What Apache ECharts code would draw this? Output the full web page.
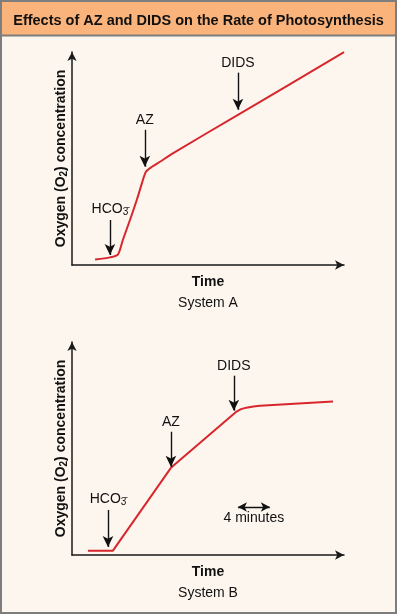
<!DOCTYPE html>
<html>
<head>
<meta charset="utf-8">
<script src="https://cdn.jsdelivr.net/npm/echarts@6/dist/echarts.min.js"></script>
<style>
  html, body { margin: 0; padding: 0; background: #fdf6ee; }
  #main { width: 397px; height: 614px; }
</style>
</head>
<body>
<div id="main"></div>
<script>
// System A curve (time, O2 in arbitrary units 0-100)
var timeA = [8.4, 13.8, 16.7, 18.5, 21.1, 23.6, 25.5, 26.9, 29.1, 32.0, 36.7, 60.4, 99.0];
var o2A = [2.5, 3.5, 4.8, 11.5, 20.7, 30.0, 37.8, 42.9, 45.2, 47.5, 51.4, 69.1, 97.9];

// System B curve
var timeB = [5.8, 14.9, 36.0, 59.9, 61.5, 63.5, 66.0, 68.4, 95.0];
var o2B = [2.0, 2.0, 40.1, 66.0, 67.1, 67.8, 68.3, 68.7, 70.6];

// additions marked with arrows
var additions = ['HCO3', 'AZ', 'DIDS'];
var arrowXA = [13.8, 26.5, 60.4];
var arrowTopA = [20.7, 62.2, 88.5];
var arrowTipA = [4.6, 45.2, 71.4];
var arrowXB = [13.1, 36.0, 58.9];
var arrowTopB = [20.7, 56.7, 82.5];
var arrowTipB = [3.7, 40.6, 66.4];

// 4 minute scale bar (system B)
var scaleBarX = [60.4, 72.0];
var scaleBarY = 22.1;
var scaleBarText = '4 minutes';

var FONT = 'Liberation Sans';
var BORDER = '#7d7d7d';

function zip(xs, ys) {
    return xs.map(function(x, i) { return [x, ys[i]]; });
}

function addLabel(name) {
    if (name === 'HCO3') return '{t|HCO}{s|3\u0304}';
    return '{t|' + name + '}';
}

function arrowLines(xs, tops, tips) {
    return additions.map(function(name, i) {
        return [
            { coord: [xs[i], tops[i]], name: name },
            { coord: [xs[i], tips[i]] }
        ];
    });
}

var labelRich = {
    t: { fontFamily: FONT, fontSize: 14, color: '#111' },
    s: { fontFamily: FONT, fontSize: 10, color: '#111', padding: [6, 0, 0, 0] }
};

function axisX(gi, sys) {
    return {
        gridIndex: gi, type: 'value', min: 0, max: 99,
        axisLine: { show: true, symbol: ['none', 'arrow'], symbolSize: [7, 9],
            lineStyle: { color: '#1a1a1a', width: 1.5 } },
        axisTick: { show: false }, axisLabel: { show: false }, splitLine: { show: false },
        name: '{b|Time}\n{n|' + sys + '}',
        nameLocation: 'middle', nameGap: 7,
        nameTextStyle: {
            rich: {
                b: { fontFamily: FONT, fontSize: 14, fontWeight: 'bold', color: '#111', lineHeight: 21 },
                n: { fontFamily: FONT, fontSize: 14, color: '#111', lineHeight: 21 }
            }
        }
    };
}

function axisY(gi) {
    return {
        gridIndex: gi, type: 'value', min: 0, max: 98,
        axisLine: { show: true, symbol: ['none', 'arrow'], symbolSize: [7, 9],
            lineStyle: { color: '#1a1a1a', width: 1.5 } },
        axisTick: { show: false }, axisLabel: { show: false }, splitLine: { show: false },
        name: '{b|Oxygen (O}{s|2}{b|) concentration}',
        nameLocation: 'middle', nameGap: 3,
        nameTextStyle: {
            rich: {
                b: { fontFamily: FONT, fontSize: 14, fontWeight: 'bold', color: '#111' },
                s: { fontFamily: FONT, fontSize: 10, fontWeight: 'bold', color: '#111', padding: [6, 0, 0, 0] }
            }
        }
    };
}

function curve(gi, data, marks, smooth) {
    return {
        type: 'line', xAxisIndex: gi, yAxisIndex: gi,
        data: data, showSymbol: false, smooth: smooth,
        lineStyle: { color: '#d8262d', width: 2 },
        markLine: {
            silent: true, symbol: ['none', 'arrow'], symbolSize: [8, 11],
            lineStyle: { color: '#111', width: 1.4, type: 'solid' },
            label: {
                show: true, position: 'start', distance: 3,
                formatter: function(p) { return addLabel(p.name); },
                rich: labelRich
            },
            data: marks
        }
    };
}

var marksB = arrowLines(arrowXB, arrowTopB, arrowTipB);
marksB.push([
    { coord: [scaleBarX[0], scaleBarY], name: scaleBarText,
      symbol: 'arrow', symbolSize: [7, 9],
      label: { position: 'insideMiddleBottom', distance: 4,
               formatter: scaleBarText, fontFamily: FONT, fontSize: 14, color: '#111' } },
    { coord: [scaleBarX[1], scaleBarY], symbol: 'arrow', symbolSize: [7, 9] }
]);

var chart = echarts.init(document.getElementById('main'));
chart.setOption({
    backgroundColor: '#fdf6ee',
    animation: false,
    title: {
        text: 'Effects of AZ and DIDS on the Rate of Photosynthesis',
        left: 'center', top: 8,
        textStyle: { fontFamily: FONT, fontSize: 14.5, fontWeight: 'bold', color: '#111' }
    },
    graphic: [
        { type: 'rect', z: -1, shape: { x: 0, y: 0, width: 397, height: 35 }, style: { fill: '#f9b37b' } },
        { type: 'line', shape: { x1: 0, y1: 35.5, x2: 397, y2: 35.5 }, style: { stroke: BORDER, lineWidth: 2 } },
        { type: 'rect', shape: { x: 1, y: 1, width: 395, height: 612 }, style: { fill: null, stroke: BORDER, lineWidth: 2 } }
    ],
    grid: [
        { left: 72, right: 53, top: 52, bottom: 349 },
        { left: 72, right: 53, top: 342, bottom: 59 }
    ],
    xAxis: [axisX(0, 'System A'), axisX(1, 'System B')],
    yAxis: [axisY(0), axisY(1)],
    series: [
        curve(0, zip(timeA, o2A), arrowLines(arrowXA, arrowTopA, arrowTipA), 0.25),
        curve(1, zip(timeB, o2B), marksB, false)
    ]
});
</script>
</body>
</html>
